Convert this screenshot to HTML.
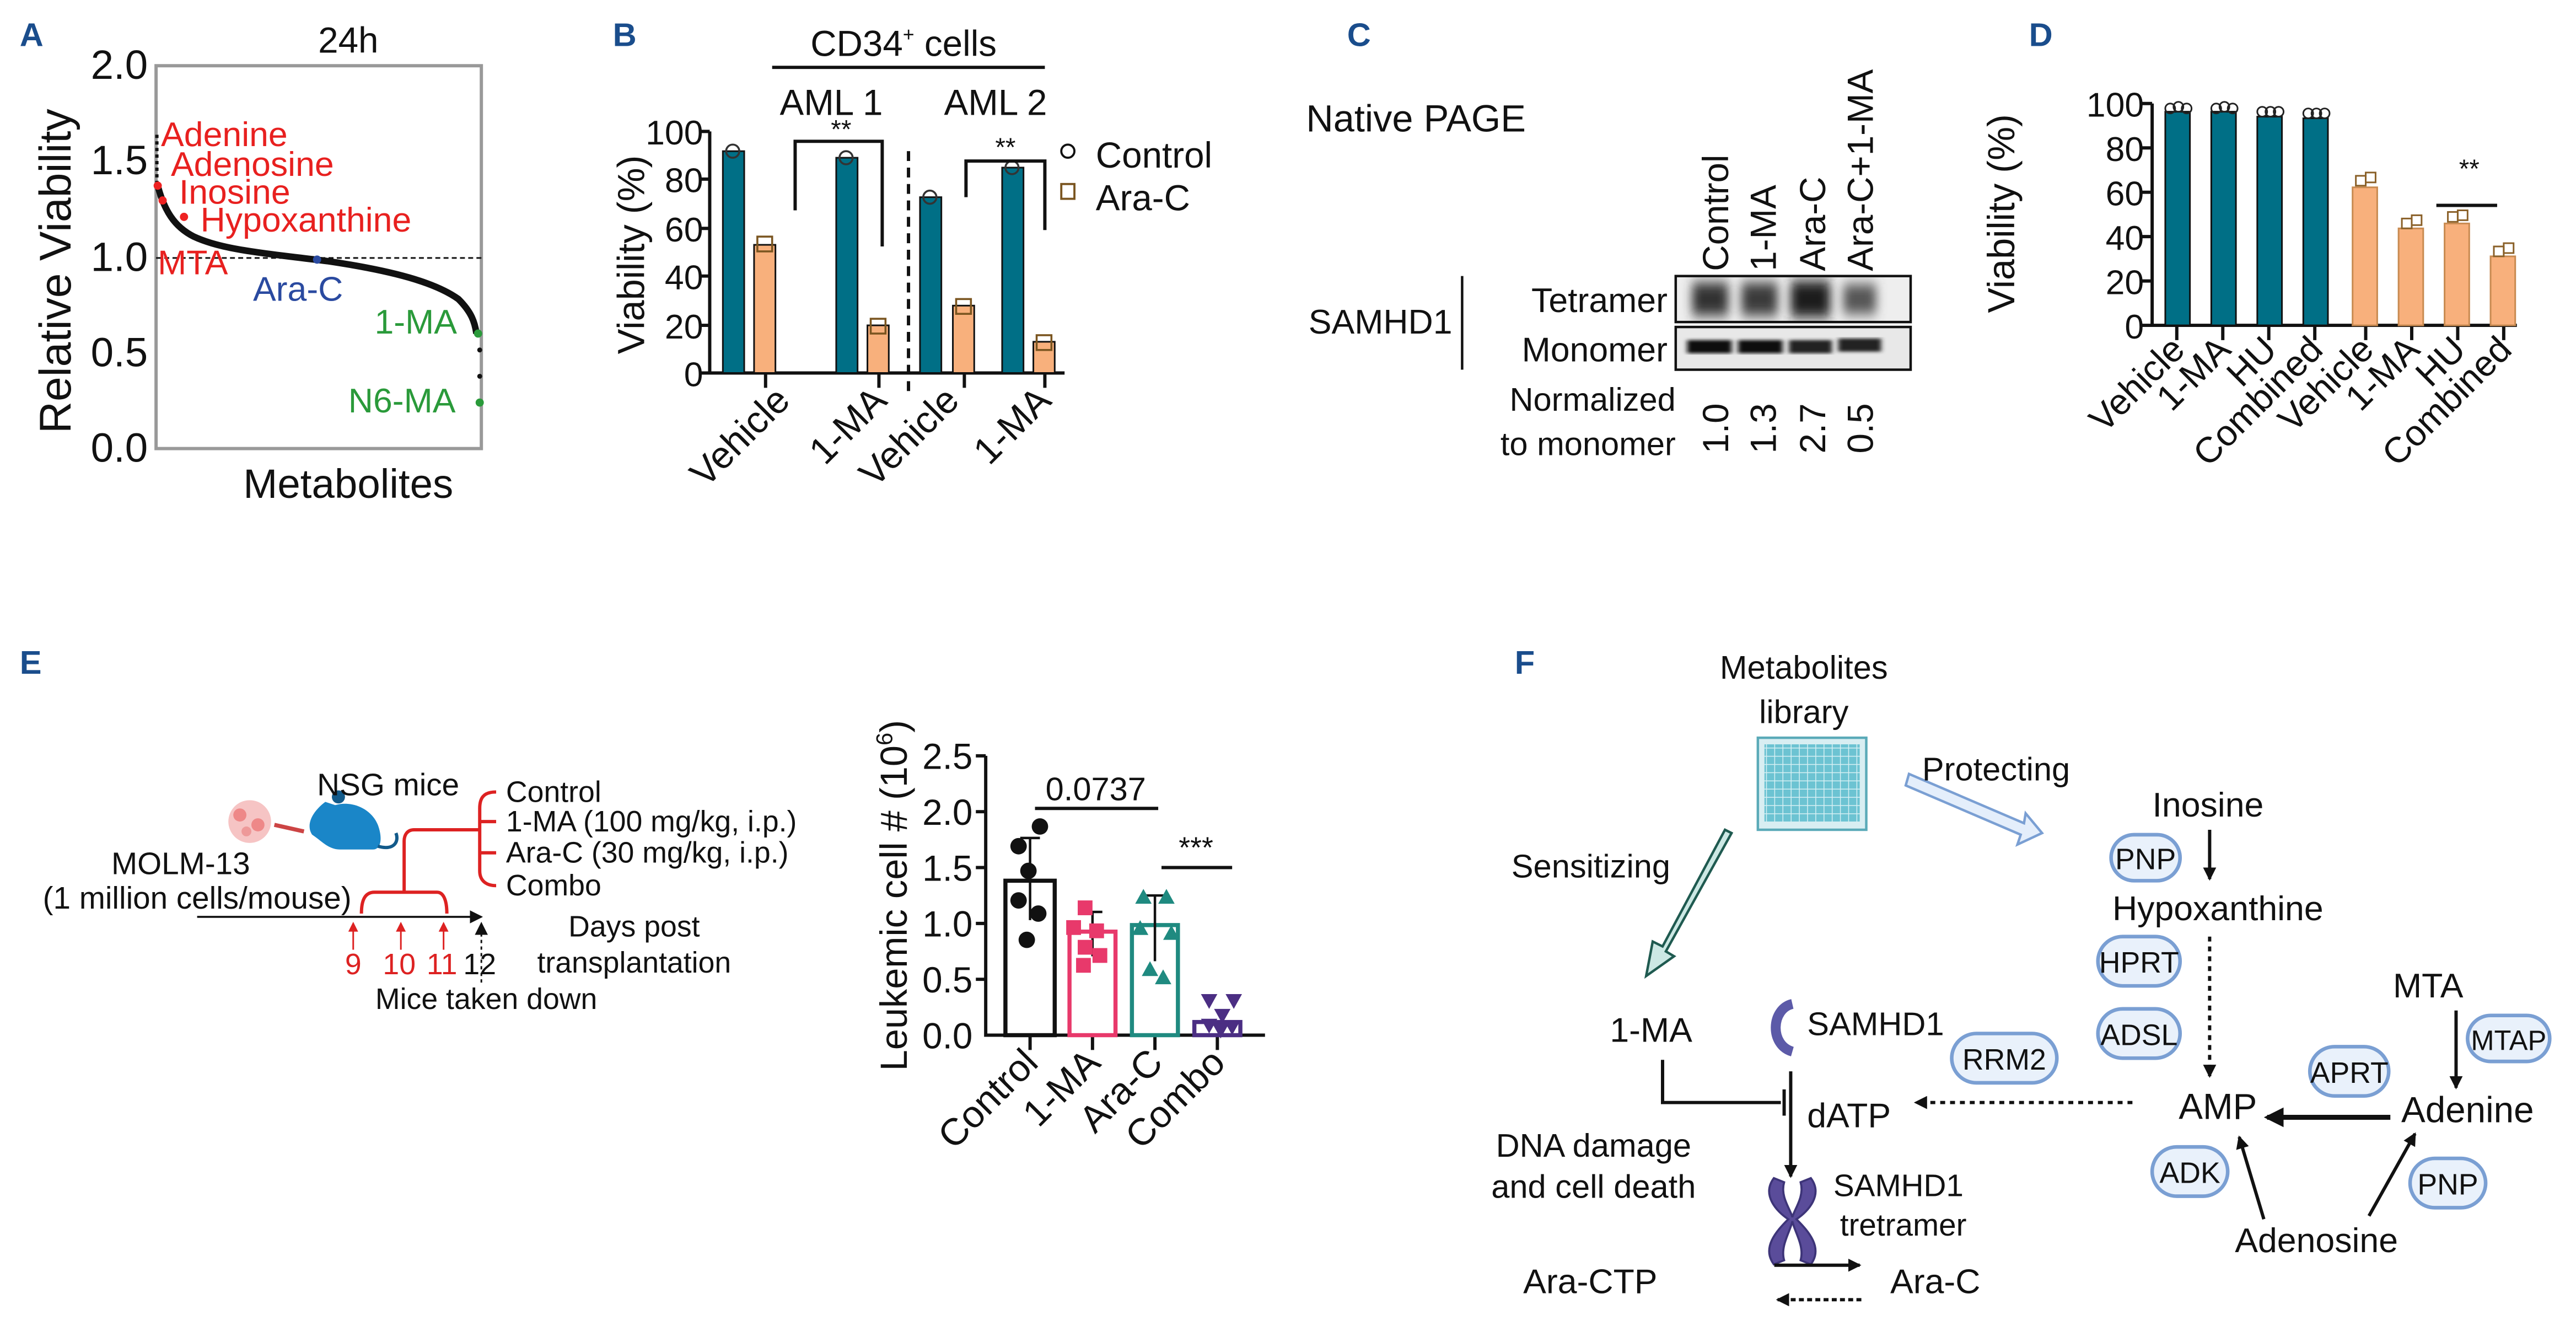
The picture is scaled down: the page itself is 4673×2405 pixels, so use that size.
<!DOCTYPE html>
<html><head><meta charset="utf-8"><style>
html,body{margin:0;padding:0;background:#fff}
svg{display:block}
text{font-family:"Liberation Sans",Arial,sans-serif;fill:#111}
.L{font-weight:bold;fill:#1a4d8c;font-size:20px}
.t{font-size:22px}
.s{font-size:19px}
.ax{stroke:#111;stroke-width:2;fill:none}
.pill{fill:#e9f1fb;stroke:#7a9fd3;stroke-width:2.2}
</style></head><body>
<svg width="4673" height="2405" viewBox="0 0 1568 807" preserveAspectRatio="none" xmlns="http://www.w3.org/2000/svg">
<defs>
<marker id="ah" markerWidth="8" markerHeight="8" refX="7" refY="4" orient="auto" markerUnits="userSpaceOnUse"><path d="M0,0 L8,4 L0,8 z" fill="#111"/></marker>
<marker id="ahr" markerWidth="6" markerHeight="6" refX="5" refY="3" orient="auto" markerUnits="userSpaceOnUse"><path d="M0,0 L6,3 L0,6 z" fill="#d22"/></marker>
<marker id="ahb" markerWidth="12" markerHeight="12" refX="10" refY="6" orient="auto" markerUnits="userSpaceOnUse"><path d="M0,0 L12,6 L0,12 z" fill="#111"/></marker>
</defs>

<!-- Panel A -->
<text class="L" x="12" y="28">A</text>
<text class="t" x="212" y="32" text-anchor="middle" font-size="24">24h</text>
<rect x="95" y="40" width="198" height="233" fill="none" stroke="#999" stroke-width="2"/>
<g font-size="25" text-anchor="end">
<text x="90" y="48">2.0</text><text x="90" y="106">1.5</text><text x="90" y="165">1.0</text><text x="90" y="223">0.5</text><text x="90" y="281">0.0</text>
</g>
<text transform="translate(43,165) rotate(-90)" text-anchor="middle" font-size="27">Relative Viability</text>
<text x="212" y="303" text-anchor="middle" font-size="25">Metabolites</text>
<line x1="95" y1="157" x2="293" y2="157" stroke="#111" stroke-width="1" stroke-dasharray="3,2"/>
<line x1="95.5" y1="82" x2="95.5" y2="112" stroke="#111" stroke-width="2" stroke-dasharray="2,2"/>
<path d="M96,113 C100,128 106,138 118,144 C135,152 160,154 200,159 C240,165 265,172 279,182 C287,190 289,196 290,203" fill="none" stroke="#111" stroke-width="4"/>
<circle cx="292" cy="213" r="1.5" fill="#111"/><circle cx="292" cy="229" r="1.5" fill="#111"/>
<circle cx="96" cy="113" r="2.5" fill="#e22"/><circle cx="99" cy="122" r="2.5" fill="#e22"/><circle cx="112" cy="132" r="2.5" fill="#e22"/>
<circle cx="193" cy="158" r="2.5" fill="#2a4aa0"/><circle cx="291" cy="203" r="2.5" fill="#2a9a3a"/><circle cx="292" cy="245" r="2.5" fill="#2a9a3a"/>
<g font-size="21">
<text x="98" y="89" style="fill:#e8201f">Adenine</text>
<text x="104" y="107" style="fill:#e8201f">Adenosine</text>
<text x="109" y="124" style="fill:#e8201f">Inosine</text>
<text x="122" y="141" style="fill:#e8201f">Hypoxanthine</text>
<text x="96" y="167" style="fill:#e8201f">MTA</text>
</g>
<text x="154" y="183" font-size="21" style="fill:#2a4aa0">Ara-C</text>
<text x="228" y="203" font-size="21" style="fill:#2a9a3a">1-MA</text>
<text x="212" y="251" font-size="21" style="fill:#2a9a3a">N6-MA</text>

<!-- Panel B -->
<text class="L" x="373" y="28">B</text>
<text x="550" y="34" text-anchor="middle" font-size="22">CD34<tspan dy="-9" font-size="12">+</tspan><tspan dy="9"> cells</tspan></text>
<line x1="470" y1="41" x2="636" y2="41" stroke="#111" stroke-width="2"/>
<text x="506" y="70" text-anchor="middle" font-size="22">AML 1</text>
<text x="606" y="70" text-anchor="middle" font-size="22">AML 2</text>
<text transform="translate(392,155) rotate(-90)" text-anchor="middle" font-size="23">Viability (%)</text>
<g font-size="21" text-anchor="end">
<text x="428" y="88">100</text><text x="428" y="117">80</text><text x="428" y="147">60</text><text x="428" y="176">40</text><text x="428" y="206">20</text><text x="428" y="235">0</text>
</g>
<path class="ax" d="M432,80 V227 H648 M426,80 H432 M426,109 H432 M426,139 H432 M426,168 H432 M426,198 H432 M426,227 H432 M466,227 V236 M535,227 V236 M587,227 V236 M636,227 V236"/>
<g stroke="#111" stroke-width="1">
<rect x="440" y="92" width="13" height="135" fill="#006f86"/>
<rect x="459" y="149" width="13" height="78" fill="#f8b07c"/>
<rect x="509" y="96" width="13" height="131" fill="#006f86"/>
<rect x="528" y="198" width="13" height="29" fill="#f8b07c"/>
<rect x="560" y="120" width="13" height="107" fill="#006f86"/>
<rect x="580" y="186" width="13" height="41" fill="#f8b07c"/>
<rect x="610" y="102" width="13" height="125" fill="#006f86"/>
<rect x="629" y="208" width="13" height="19" fill="#f8b07c"/>
</g>
<g fill="none" stroke="#333" stroke-width="1.2">
<circle cx="446" cy="92" r="4"/><circle cx="515" cy="96" r="4"/><circle cx="566" cy="120" r="4"/><circle cx="616" cy="102" r="4"/>
<rect x="461" y="144" width="9" height="9" stroke="#7a5520"/><rect x="530" y="194" width="9" height="9" stroke="#7a5520"/><rect x="582" y="182" width="9" height="9" stroke="#7a5520"/><rect x="631" y="204" width="9" height="9" stroke="#7a5520"/>
</g>
<line x1="553" y1="92" x2="553" y2="240" stroke="#111" stroke-width="2" stroke-dasharray="6,4"/>
<path class="ax" d="M484,128 V86 H537 V150 M588,120 V98 H636 V140"/>
<text x="512" y="84" text-anchor="middle" font-size="16">**</text>
<text x="612" y="95" text-anchor="middle" font-size="16">**</text>
<circle cx="650" cy="92" r="4" fill="none" stroke="#111" stroke-width="1.3"/>
<rect x="646" y="112" width="8" height="9" fill="none" stroke="#7a5520" stroke-width="1.3"/>
<text x="667" y="102" font-size="22">Control</text>
<text x="667" y="128" font-size="22">Ara-C</text>
<g font-size="23" text-anchor="end">
<text transform="translate(482,245) rotate(-45)">Vehicle</text>
<text transform="translate(541,245) rotate(-45)">1-MA</text>
<text transform="translate(585,245) rotate(-45)">Vehicle</text>
<text transform="translate(641,245) rotate(-45)">1-MA</text>
</g>

<!-- Panel C -->
<text class="L" x="820" y="28">C</text>
<text x="795" y="80" font-size="23">Native PAGE</text>
<g font-size="22">
<text transform="translate(1052,165) rotate(-90)">Control</text>
<text transform="translate(1081,165) rotate(-90)">1-MA</text>
<text transform="translate(1111,165) rotate(-90)">Ara-C</text>
<text transform="translate(1140,165) rotate(-90)">Ara-C+1-MA</text>
<text transform="translate(1052,276) rotate(-90)">1.0</text>
<text transform="translate(1081,276) rotate(-90)">1.3</text>
<text transform="translate(1111,276) rotate(-90)">2.7</text>
<text transform="translate(1140,276) rotate(-90)">0.5</text>
</g>
<defs><filter id="bl"><feGaussianBlur stdDeviation="3 4"/></filter><filter id="bl2"><feGaussianBlur stdDeviation="1.5 1"/></filter></defs>
<rect x="1020" y="168" width="143" height="28" fill="#eee" stroke="#111" stroke-width="1.5"/>
<g filter="url(#bl)">
<rect x="1030" y="172" width="22" height="20" fill="#333"/><rect x="1060" y="172" width="22" height="20" fill="#3a3a3a"/><rect x="1090" y="171" width="24" height="22" fill="#1a1a1a"/><rect x="1122" y="173" width="20" height="18" fill="#555"/>
</g>
<rect x="1020" y="199" width="143" height="26" fill="#e8e8e8" stroke="#111" stroke-width="1.5"/>
<g filter="url(#bl2)">
<rect x="1027" y="207" width="27" height="8" fill="#111"/><rect x="1058" y="207" width="27" height="8" fill="#111"/><rect x="1089" y="207" width="26" height="8" fill="#222"/><rect x="1119" y="206" width="26" height="8" fill="#222"/>
</g>
<text x="1015" y="190" text-anchor="end" font-size="21">Tetramer</text>
<text x="1015" y="220" text-anchor="end" font-size="21">Monomer</text>
<text x="884" y="203" text-anchor="end" font-size="21">SAMHD1</text>
<line x1="890" y1="168" x2="890" y2="225" stroke="#111" stroke-width="1.5"/>
<text x="1020" y="250" text-anchor="end" font-size="20">Normalized</text>
<text x="1020" y="277" text-anchor="end" font-size="20">to monomer</text>

<!-- Panel D -->
<text class="L" x="1235" y="28">D</text>
<text transform="translate(1226,130) rotate(-90)" text-anchor="middle" font-size="23">Viability (%)</text>
<g font-size="21" text-anchor="end">
<text x="1305" y="71">100</text><text x="1305" y="98">80</text><text x="1305" y="125">60</text><text x="1305" y="152">40</text><text x="1305" y="179">20</text><text x="1305" y="206">0</text>
</g>
<path class="ax" d="M1310,63 V198 H1532 M1304,63 H1310 M1304,90 H1310 M1304,117 H1310 M1304,144 H1310 M1304,171 H1310 M1304,198 H1310 M1325,198 V207 M1353,198 V207 M1381,198 V207 M1409,198 V207 M1440,198 V207 M1468,198 V207 M1496,198 V207 M1524,198 V207"/>
<g stroke="#111" stroke-width="1">
<rect x="1318" y="68" width="15" height="130" fill="#006f86"/>
<rect x="1346" y="68" width="15" height="130" fill="#006f86"/>
<rect x="1374" y="71" width="15" height="127" fill="#006f86"/>
<rect x="1402" y="72" width="15" height="126" fill="#006f86"/>
<rect x="1432" y="114" width="15" height="84" fill="#f8b07c" stroke="#c88a50"/>
<rect x="1460" y="139" width="15" height="59" fill="#f8b07c" stroke="#c88a50"/>
<rect x="1488" y="136" width="15" height="62" fill="#f8b07c" stroke="#c88a50"/>
<rect x="1516" y="156" width="15" height="42" fill="#f8b07c" stroke="#c88a50"/>
</g>
<g fill="none" stroke="#222" stroke-width="1">
<circle cx="1321" cy="66" r="3"/><circle cx="1326" cy="65" r="3"/><circle cx="1331" cy="66" r="3"/>
<circle cx="1349" cy="66" r="3"/><circle cx="1354" cy="65" r="3"/><circle cx="1359" cy="66" r="3"/>
<circle cx="1377" cy="68" r="3"/><circle cx="1382" cy="68" r="3"/><circle cx="1387" cy="68" r="3"/>
<circle cx="1405" cy="69" r="3"/><circle cx="1410" cy="69" r="3"/><circle cx="1415" cy="69" r="3"/>
</g>
<g fill="none" stroke="#8a6028" stroke-width="1">
<rect x="1434" y="107" width="6" height="6"/><rect x="1440" y="105" width="6" height="6"/>
<rect x="1462" y="133" width="6" height="6"/><rect x="1468" y="131" width="6" height="6"/>
<rect x="1490" y="129" width="6" height="6"/><rect x="1496" y="128" width="6" height="6"/>
<rect x="1518" y="150" width="6" height="6"/><rect x="1524" y="148" width="6" height="6"/>
</g>
<text x="1503" y="108" text-anchor="middle" font-size="16">**</text>
<line x1="1483" y1="125" x2="1520" y2="125" stroke="#111" stroke-width="2"/>
<g font-size="22" text-anchor="end">
<text transform="translate(1331,214) rotate(-45)">Vehicle</text>
<text transform="translate(1359,214) rotate(-45)">1-MA</text>
<text transform="translate(1387,214) rotate(-45)">HU</text>
<text transform="translate(1415,214) rotate(-45)">Combined</text>
<text transform="translate(1446,214) rotate(-45)">Vehicle</text>
<text transform="translate(1474,214) rotate(-45)">1-MA</text>
<text transform="translate(1502,214) rotate(-45)">HU</text>
<text transform="translate(1530,214) rotate(-45)">Combined</text>
</g>

<!-- Panel E -->
<text class="L" x="12" y="410">E</text>
<g transform="translate(0,12)">
<circle cx="152" cy="488" r="13" fill="#f6c4c4"/><circle cx="146" cy="484" r="4" fill="#e88"/><circle cx="157" cy="490" r="4" fill="#e88"/><circle cx="150" cy="494" r="3" fill="#e99"/>
<path d="M167,490 L185,494" stroke="#c44" stroke-width="2.5"/>
<path d="M198,476 C190,482 186,490 190,496 C196,500 200,505 207,505 L227,505 C232,505 233,498 230,490 C226,480 214,475 204,478 Z" fill="#1a86c8"/>
<circle cx="206" cy="473" r="4" fill="#125a8a"/>
<path d="M230,503 C240,506 243,500 241,495" stroke="#125a8a" stroke-width="2" fill="none"/>
</g>
<text x="193" y="484" font-size="19">NSG mice</text>
<text x="110" y="532" text-anchor="middle" font-size="19">MOLM-13</text>
<text x="120" y="553" text-anchor="middle" font-size="19">(1 million cells/mouse)</text>
<line x1="120" y1="558" x2="293" y2="558" stroke="#111" stroke-width="1.2" marker-end="url(#ah)"/>
<path d="M220,556 C220,548 222,543 228,543 L266,543 C270,543 272,548 272,556 M246,543 V512 C246,508 248,505 252,505 H290" fill="none" stroke="#d22" stroke-width="2"/>
<path d="M302,482 C294,482 292,486 292,492 V530 C292,536 296,539 302,539 M292,500 H302 M292,519 H302 M284,505 H292" fill="none" stroke="#d22" stroke-width="2"/>
<g font-size="18">
<text x="308" y="488">Control</text>
<text x="308" y="506">1-MA (100 mg/kg, i.p.)</text>
<text x="308" y="525">Ara-C (30 mg/kg, i.p.)</text>
<text x="308" y="545">Combo</text>
</g>
<g stroke="#d22" stroke-width="1" marker-end="url(#ahr)">
<line x1="215" y1="578" x2="215" y2="562"/><line x1="244" y1="578" x2="244" y2="562"/><line x1="270" y1="578" x2="270" y2="562"/>
</g>
<line x1="293" y1="598" x2="293" y2="562" stroke="#111" stroke-width="1" stroke-dasharray="2,2" marker-end="url(#ah)"/>
<g font-size="18" text-anchor="middle">
<text x="215" y="593" style="fill:#d22">9</text><text x="243" y="593" style="fill:#d22">10</text><text x="269" y="593" style="fill:#d22">11</text><text x="292" y="593">12</text>
<text x="386" y="570">Days post</text><text x="386" y="592">transplantation</text><text x="296" y="614">Mice taken down</text>
</g>
<text transform="translate(552,545) rotate(-90)" text-anchor="middle" font-size="23">Leukemic cell # (10<tspan dy="-9" font-size="14">6</tspan><tspan dy="9">)</tspan></text>
<g font-size="22" text-anchor="end">
<text x="592" y="468">2.5</text><text x="592" y="502">2.0</text><text x="592" y="536">1.5</text><text x="592" y="570">1.0</text><text x="592" y="604">0.5</text><text x="592" y="638">0.0</text>
</g>
<path class="ax" d="M600,460 V630 H770 M594,460 H600 M594,494 H600 M594,528 H600 M594,562 H600 M594,596 H600 M627,630 V639 M665,630 V639 M703,630 V639 M741,630 V639"/>
<rect x="612" y="536" width="30" height="94" fill="none" stroke="#111" stroke-width="2.5"/>
<rect x="651" y="567" width="28" height="63" fill="none" stroke="#e8396b" stroke-width="2.5"/>
<rect x="689" y="563" width="28" height="67" fill="none" stroke="#1f8a80" stroke-width="2.5"/>
<rect x="727" y="622" width="28" height="8" fill="none" stroke="#4b2e83" stroke-width="2.5"/>
<path d="M627,510 V560 M621,510 H633 M665,555 V582 M659,555 H671 M703,545 V585 M697,545 H709" stroke="#111" stroke-width="1.5"/>
<g fill="#111"><circle cx="620" cy="515" r="5"/><circle cx="633" cy="503" r="5"/><circle cx="626" cy="530" r="5"/><circle cx="620" cy="548" r="5"/><circle cx="632" cy="556" r="5"/><circle cx="625" cy="572" r="5"/></g>
<g fill="#e8396b"><rect x="656" y="548" width="9" height="9"/><rect x="649" y="560" width="9" height="9"/><rect x="663" y="562" width="9" height="9"/><rect x="656" y="572" width="9" height="9"/><rect x="665" y="577" width="9" height="9"/><rect x="655" y="583" width="9" height="9"/></g>
<g fill="#1f8a80"><path d="M696,541 l5,9 h-10z M710,541 l5,9 h-10z M694,560 l5,9 h-10z M713,563 l5,9 h-10z M700,585 l5,9 h-10z M708,590 l5,9 h-10z"/></g>
<g fill="#4b2e83"><path d="M731,605 l5,9 l5,-9z M746,605 l5,9 l5,-9z M739,614 l5,9 l5,-9z M731,620 l5,9 l5,-9z M745,621 l5,9 l5,-9z M738,623 l5,9 l5,-9z"/></g>
<text x="667" y="487" text-anchor="middle" font-size="20">0.0737</text>
<line x1="630" y1="492" x2="705" y2="492" stroke="#111" stroke-width="2"/>
<text x="728" y="522" text-anchor="middle" font-size="18">***</text>
<line x1="707" y1="528" x2="750" y2="528" stroke="#111" stroke-width="2"/>
<g font-size="23" text-anchor="end">
<text transform="translate(633,648) rotate(-45)">Control</text>
<text transform="translate(671,648) rotate(-45)">1-MA</text>
<text transform="translate(709,648) rotate(-45)">Ara-C</text>
<text transform="translate(747,648) rotate(-45)">Combo</text>
</g>

<!-- Panel F -->
<text class="L" x="922" y="410">F</text>
<text x="1098" y="413" text-anchor="middle" font-size="20">Metabolites</text>
<text x="1098" y="440" text-anchor="middle" font-size="20">library</text>
<defs><pattern id="grid" width="5" height="5" patternUnits="userSpaceOnUse"><rect width="5" height="5" fill="#6cc3d2"/><path d="M0,0 H5 M0,0 V5" stroke="#d7f0f4" stroke-width="1"/></pattern></defs>
<rect x="1070" y="449" width="66" height="56" fill="#d8eef2" stroke="#5aaab8" stroke-width="1.5"/>
<rect x="1074" y="453" width="58" height="47" fill="url(#grid)"/>
<path d="M1160,478 L1230,508 L1228,514 L1243,507 L1233,495 L1232,501 L1162,471 Z" fill="#e4eefb" stroke="#7a9fd3" stroke-width="1.5"/>
<text x="1170" y="475" font-size="20">Protecting</text>
<path d="M1050,505 L1012,576 L1006,573 L1002,594 L1019,582 L1014,579 L1054,507 Z" fill="#cce8e4" stroke="#1f5a50" stroke-width="1.5"/>
<text x="920" y="534" font-size="20">Sensitizing</text>
<text x="1005" y="634" text-anchor="middle" font-size="21">1-MA</text>
<path d="M1091,611 C1078,614 1077,636 1091,640" fill="none" stroke="#5c5aa8" stroke-width="6"/>
<text x="1100" y="630" font-size="20">SAMHD1</text>
<path d="M1012,645 V671 H1084" fill="none" stroke="#111" stroke-width="2"/>
<line x1="1086" y1="663" x2="1086" y2="679" stroke="#111" stroke-width="2"/>
<line x1="1090" y1="652" x2="1090" y2="716" stroke="#111" stroke-width="2" marker-end="url(#ah)"/>
<text x="1100" y="686" font-size="21">dATP</text>
<line x1="1298" y1="671" x2="1166" y2="671" stroke="#111" stroke-width="2" stroke-dasharray="3,3" marker-end="url(#ah)"/>
<text x="970" y="704" text-anchor="middle" font-size="20">DNA damage</text>
<text x="970" y="729" text-anchor="middle" font-size="20">and cell death</text>
<g fill="#5a4c9a" stroke="#3d3478" stroke-width="1" transform="translate(1091,742) scale(1.25) translate(-1091,-742)">
<path d="M1082,722 C1076,730 1083,738 1089,742 C1083,748 1076,756 1082,764 L1087,762 C1085,755 1090,748 1091,743 C1092,748 1097,755 1095,762 L1100,764 C1106,756 1099,748 1093,742 C1099,738 1106,730 1100,722 L1095,724 C1097,731 1092,737 1091,741 C1090,737 1085,731 1087,724 Z"/>
</g>
<text x="1116" y="728" font-size="19">SAMHD1</text>
<text x="1120" y="752" font-size="19">tretramer</text>
<text x="968" y="787" text-anchor="middle" font-size="21">Ara-CTP</text>
<text x="1178" y="787" text-anchor="middle" font-size="21">Ara-C</text>
<line x1="1080" y1="770" x2="1132" y2="770" stroke="#111" stroke-width="2" marker-end="url(#ah)"/>
<line x1="1133" y1="791" x2="1082" y2="791" stroke="#111" stroke-width="2" stroke-dasharray="3,2" marker-end="url(#ah)"/>

<text x="1344" y="497" text-anchor="middle" font-size="21">Inosine</text>
<rect x="1285" y="508" width="42" height="28" rx="14" class="pill"/><text x="1306" y="529" text-anchor="middle" font-size="18">PNP</text>
<line x1="1345" y1="505" x2="1345" y2="535" stroke="#111" stroke-width="2" marker-end="url(#ah)"/>
<text x="1350" y="560" text-anchor="middle" font-size="21">Hypoxanthine</text>
<rect x="1277" y="570" width="50" height="30" rx="15" class="pill"/><text x="1302" y="592" text-anchor="middle" font-size="18">HPRT</text>
<rect x="1277" y="614" width="50" height="30" rx="15" class="pill"/><text x="1302" y="636" text-anchor="middle" font-size="18">ADSL</text>
<line x1="1345" y1="570" x2="1345" y2="655" stroke="#111" stroke-width="2" stroke-dasharray="3,3" marker-end="url(#ah)"/>
<rect x="1188" y="629" width="64" height="30" rx="15" class="pill"/><text x="1220" y="651" text-anchor="middle" font-size="18">RRM2</text>
<text x="1350" y="681" text-anchor="middle" font-size="22">AMP</text>
<text x="1478" y="607" text-anchor="middle" font-size="21">MTA</text>
<line x1="1495" y1="615" x2="1495" y2="662" stroke="#111" stroke-width="2" marker-end="url(#ah)"/>
<rect x="1502" y="618" width="50" height="28" rx="14" class="pill"/><text x="1527" y="639" text-anchor="middle" font-size="17">MTAP</text>
<text x="1502" y="683" text-anchor="middle" font-size="22">Adenine</text>
<rect x="1406" y="637" width="48" height="30" rx="15" class="pill"/><text x="1430" y="659" text-anchor="middle" font-size="18">APRT</text>
<line x1="1455" y1="680" x2="1380" y2="680" stroke="#111" stroke-width="3" marker-end="url(#ahb)"/>
<rect x="1310" y="698" width="46" height="30" rx="15" class="pill"/><text x="1333" y="720" text-anchor="middle" font-size="18">ADK</text>
<text x="1410" y="762" text-anchor="middle" font-size="21">Adenosine</text>
<line x1="1378" y1="742" x2="1363" y2="692" stroke="#111" stroke-width="2" marker-end="url(#ah)"/>
<line x1="1442" y1="740" x2="1470" y2="690" stroke="#111" stroke-width="2" marker-end="url(#ah)"/>
<rect x="1467" y="705" width="46" height="30" rx="15" class="pill"/><text x="1490" y="727" text-anchor="middle" font-size="18">PNP</text>
</svg>
</body></html>
